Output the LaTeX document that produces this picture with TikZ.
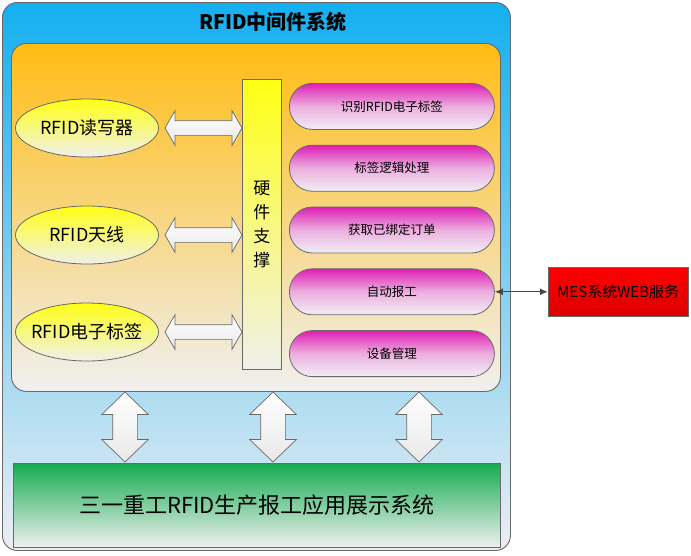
\documentclass[tikz,border=0pt]{standalone}
\usepackage{fontspec}
\setmainfont{Noto Sans CJK SC}
\usetikzlibrary{arrows.meta,shapes.geometric,shapes.arrows,calc,positioning}
\definecolor{edgeColor}{RGB}{105,105,105}
\definecolor{outerTop}{RGB}{20,175,240}
\definecolor{outerBottom}{RGB}{236,238,242}
\definecolor{innerTop}{RGB}{255,188,20}
\definecolor{innerBottom}{RGB}{240,240,240}
\definecolor{deviceTop}{RGB}{255,255,20}
\definecolor{deviceBottom}{RGB}{240,240,236}
\definecolor{funcTop}{RGB}{222,30,180}
\definecolor{funcMiddle}{RGB}{236,175,222}
\definecolor{funcBottom}{RGB}{240,238,244}
\definecolor{appTop}{RGB}{20,172,80}
\definecolor{appBottom}{RGB}{240,240,240}
\definecolor{mesTop}{RGB}{255,0,0}
\definecolor{mesBottom}{RGB}{220,0,0}
\definecolor{linkColor}{RGB}{70,70,70}
\tikzset{frame/.style={draw=edgeColor, line width=0.9pt, rounded corners=15pt, inner sep=0pt}}
\tikzset{outer/.style={frame, top color=outerTop, bottom color=outerBottom, minimum width=508pt, minimum height=548pt}}
\tikzset{inner/.style={frame, top color=innerTop, bottom color=innerBottom, minimum width=489pt, minimum height=348pt}}
\tikzset{device/.style={ellipse, draw=edgeColor, line width=0.8pt, top color=deviceTop, bottom color=deviceBottom, minimum width=143pt, minimum height=58pt, inner xsep=-14pt, inner ysep=0pt, font=\fontsize{18}{20}\selectfont}}
\tikzset{hardware/.style={draw=edgeColor, line width=0.8pt, top color=deviceTop, bottom color=deviceBottom, minimum width=39pt, minimum height=290pt, inner sep=0pt, align=center, font=\fontsize{17}{24}\selectfont}}
\tikzset{func/.style={draw=edgeColor, line width=0.8pt, rounded corners=22.9pt, top color=funcTop, bottom color=funcBottom, middle color=funcMiddle, minimum width=205pt, minimum height=46pt, inner sep=0pt, font=\fontsize{12.5}{14}\selectfont}}
\tikzset{service/.style={draw=edgeColor, line width=0.8pt, top color=mesTop, bottom color=mesBottom, minimum width=140pt, minimum height=49pt, inner sep=0pt, font=\fontsize{15}{17}\selectfont}}
\tikzset{display/.style={draw=edgeColor, line width=0.8pt, top color=appTop, bottom color=appBottom, minimum width=487pt, minimum height=84pt, inner sep=0pt, font=\fontsize{22}{24}\selectfont}}
\tikzset{hlink/.style={double arrow, draw=edgeColor, line width=0.7pt, top color=white, bottom color=gray!18, minimum height=77pt, minimum width=34pt, double arrow head extend=10pt, double arrow tip angle=120, inner sep=7pt}}
\tikzset{vlink/.style={hlink, shape border rotate=90, minimum height=70pt, minimum width=46pt, double arrow head extend=11pt, double arrow tip angle=92, inner sep=12pt}}
\tikzstyle{duplex} = [{Latex[length=8pt,width=7pt]}-{Latex[length=8pt,width=7pt]}, draw=linkColor, line width=1.2pt]

\begin{document}
\begin{tikzpicture}[x=1pt, y=-1pt, node distance=15pt and 53pt]
	\useasboundingbox (0,0) rectangle (691,555);
	% Nodes
		\node (middleware) [outer, anchor=north west] at (2,2) {};
		\node (title) [font=\bfseries\fontsize{20}{22}\selectfont] at (273,22) {RFID中间件系统};
		\node (core) [inner, anchor=north west] at (11,43) {};

		\node (hw) [hardware, anchor=north west] at (242,79) {硬\\件\\支\\撑};
		\node (reader) [device] at (87,128) {RFID读写器};
		\node (antenna) [device] at (87,235) {RFID天线};
		\node (tag) [device] at (87,332) {RFID电子标签};

		\node (identify) [func, anchor=north west] at (289,83) {识别RFID电子标签};
		\node (logic) [func, below=of identify] {标签逻辑处理};
		\node (order) [func, below=of logic] {获取已绑定订单};
		\node (report) [func, below=of order] {自动报工};
		\node (equip) [func, below=of report] {设备管理};

		\node (mes) [service, right=of report] {MES系统WEB服务};
		\node (app) [display, anchor=north west] at (13,463) {三一重工RFID生产报工应用展示系统};

		% Connectors
		\node (readerlink) [hlink] at ($(hw.west |- reader)+(-38.5,0)$) {};
		\node (antennalink) [hlink] at ($(hw.west |- antenna)+(-38.5,0)$) {};
		\node (taglink) [hlink] at ($(hw.west |- tag)+(-38.5,0)$) {};

		\node (applinkA) [vlink] at ($(app.north west)+(112,-36)$) {};
		\node (applinkB) [vlink] at ($(app.north west)+(260,-36)$) {};
		\node (applinkC) [vlink] at ($(app.north west)+(406,-36)$) {};

		\draw [duplex] (report) -- (mes);
\end{tikzpicture}
\end{document}
